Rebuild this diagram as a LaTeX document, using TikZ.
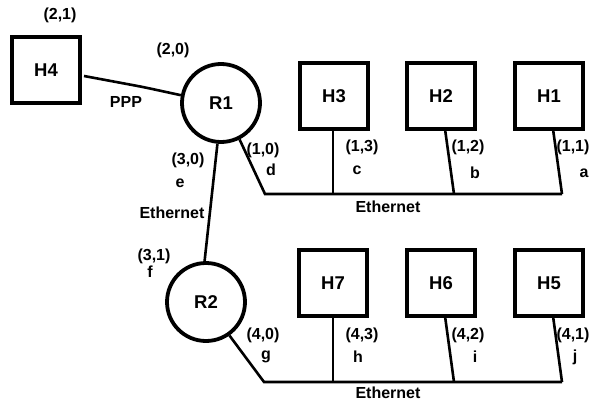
\documentclass[tikz,border=0pt]{standalone}
\usepackage{fontspec}
\setmainfont{Liberation Sans}
\begin{document}
\begin{tikzpicture}[x=1pt,y=-1pt,
  hostbox/.style={draw,line width=3.8pt,minimum width=68pt,minimum height=66pt,inner sep=0pt,font=\bfseries\fontsize{18.5}{20}\selectfont},
  router/.style={draw,circle,line width=3.8pt,minimum size=78pt,inner sep=0pt,font=\bfseries\fontsize{18.5}{20}\selectfont},
  wire/.style={line width=2.6pt},
  lbl/.style={inner sep=0pt,font=\bfseries\fontsize{16}{18}\selectfont}]
\useasboundingbox (0,0) rectangle (597,404);
% nodes
\node[hostbox] (H4) at (46,70) {H4};
\node[router] (R1) at (221,103) {R1};
\node[router] (R2) at (206,302) {R2};
\node[hostbox] (H3) at (334,96) {H3};
\node[hostbox] (H2) at (441,96) {H2};
\node[hostbox] (H1) at (549,96) {H1};
\node[hostbox] (H7) at (333,283) {H7};
\node[hostbox] (H6) at (441,283) {H6};
\node[hostbox] (H5) at (549,283) {H5};
% bus coordinates
\coordinate (b1L) at (265,194);
\coordinate (b1c) at (333,194);
\coordinate (b1b) at (454,194);
\coordinate (b1a) at (562,194);
\coordinate (b2L) at (264,382);
\coordinate (b2h) at (333,382);
\coordinate (b2i) at (454,382);
\coordinate (b2j) at (562,382);
\coordinate (p0) at (84,76);
\coordinate (p1) at (143,87);
% connectors
\draw[wire,rounded corners=8pt] (p0) -- (p1) -- (R1.169);
\draw[wire] (R1.265) -- (R2.92);
\draw[wire] (R1.297) -- (b1L) -- (b1a);
\draw[wire] (H3.south -| b1c) -- (b1c);
\draw[wire] (445,129) -- (b1b);
\draw[wire] (553,129) -- (b1a);
\draw[wire] (R2.305) -- (b2L) -- (b2j);
\draw[wire] (H7.south -| b2h) -- (b2h);
\draw[wire] (445,316) -- (b2i);
\draw[wire] (553,316) -- (b2j);
% labels
\node[lbl] (l21) at (60,15) {(2,1)};
\node[lbl] (l20) at (173,50) {(2,0)};
\node[lbl] (lppp) at (126,102) {PPP};
\node[lbl] (l30) at (188,160) {(3,0)};
\node[lbl] (le) at (180,183) {e};
\node[lbl] (leth1) at (172,213) {Ethernet};
\node[lbl] (l31) at (154,256) {(3,1)};
\node[lbl] (lf) at (150,272) {f};
\node[lbl] (l10) at (263,150) {(1,0)};
\node[lbl] (ld) at (271,170) {d};
\node[lbl] (l13) at (362,147) {(1,3)};
\node[lbl] (lc) at (357,170) {c};
\node[lbl] (l12) at (468,147) {(1,2)};
\node[lbl] (lb) at (475,173) {b};
\node[lbl] (l11) at (573,147) {(1,1)};
\node[lbl] (la) at (584,173) {a};
\node[lbl] (leth2) at (388,207) {Ethernet};
\node[lbl] (l40) at (263,335) {(4,0)};
\node[lbl] (lg) at (266,357) {g};
\node[lbl] (l43) at (362,335) {(4,3)};
\node[lbl] (lh) at (358,357) {h};
\node[lbl] (l42) at (468,335) {(4,2)};
\node[lbl] (li) at (475,357) {i};
\node[lbl] (l41) at (573,335) {(4,1)};
\node[lbl] (lj) at (575,357) {j};
\node[lbl] (leth3) at (388,393) {Ethernet};
\end{tikzpicture}
\end{document}
